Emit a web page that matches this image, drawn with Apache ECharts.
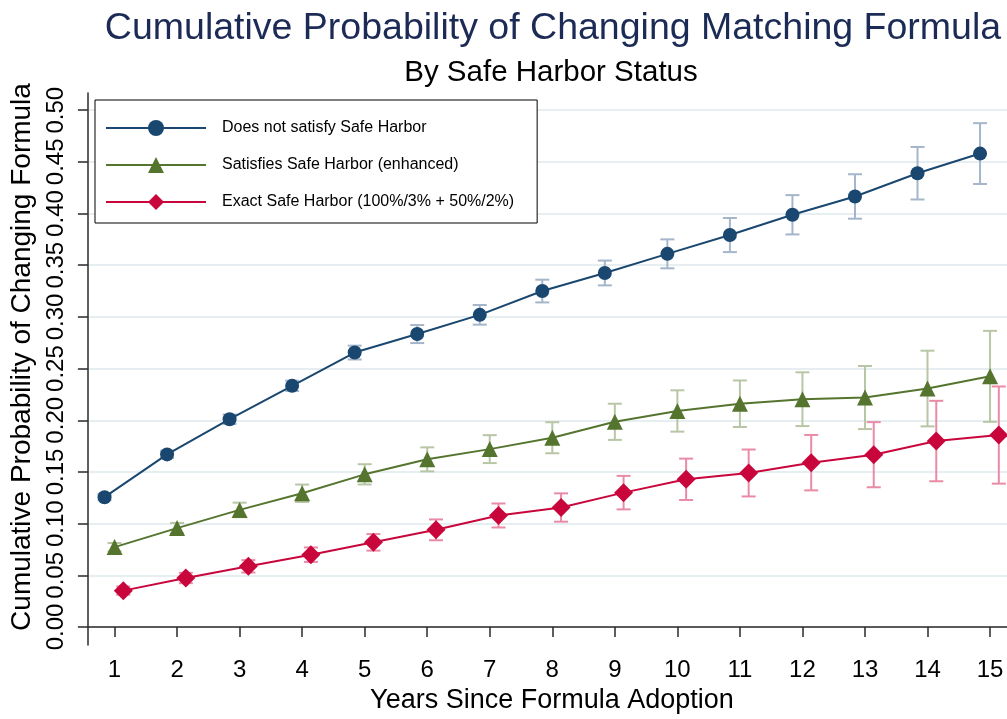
<!DOCTYPE html>
<html>
<head>
<meta charset="utf-8">
<script src="https://cdn.jsdelivr.net/npm/echarts@6/dist/echarts.min.js"></script>
<style>
html,body{margin:0;padding:0;background:#fff;}
#chart{width:1007px;height:719px;}
</style>
</head>
<body>
<div id="chart"></div>
<script>
// ---- data ----
const years = [1,2,3,4,5,6,7,8,9,10,11,12,13,14,15];
const yTicks = [0,0.05,0.10,0.15,0.20,0.25,0.30,0.35,0.40,0.45,0.50];
const seriesNames = ['Does not satisfy Safe Harbor','Satisfies Safe Harbor (enhanced)','Exact Safe Harbor (100%/3% + 50%/2%)'];
const notSatisfy    = [0.1256,0.167,0.201,0.2333,0.2655,0.2834,0.302,0.325,0.3425,0.361,0.3792,0.3988,0.4165,0.439,0.458];
const notSatisfyErr = [0.003,0.0035,0.0045,0.005,0.0067,0.0087,0.0095,0.011,0.012,0.014,0.0165,0.019,0.0215,0.0254,0.0294];
const enhanced      = [0.0773,0.0957,0.1133,0.1294,0.1477,0.1622,0.1721,0.1831,0.1985,0.209,0.216,0.2204,0.222,0.2307,0.2425];
const enhancedErr   = [0.004,0.005,0.007,0.0084,0.0098,0.0116,0.0135,0.015,0.0175,0.020,0.0225,0.026,0.0305,0.0366,0.044];
const exact         = [0.0352,0.0474,0.0587,0.070,0.0819,0.094,0.1079,0.1156,0.130,0.1429,0.149,0.159,0.1667,0.1799,0.1857];
const exactErr      = [0.004,0.005,0.006,0.007,0.008,0.0101,0.0116,0.0137,0.0162,0.020,0.0227,0.0268,0.0315,0.0389,0.047];

// ---- styles ----
const FONT = "'Liberation Sans', Arial, Helvetica, sans-serif";
const cBlue = '#1a476f', cGreen = '#55752f', cRed = '#c8063c';
const eBlue = '#a5b6ca', eGreen = '#b9c6a5', eRed = '#e98ba6';

function lineSeries(name, vals, offset, color, symbol, size) {
  return {
    type: 'line', name: name, z: 3,
    data: years.map((y, i) => [y + offset, vals[i]]),
    symbol: symbol, symbolSize: size, showSymbol: true,
    lineStyle: {color: color, width: 2},
    itemStyle: {color: color},
    emphasis: {disabled: true},
    animation: false
  };
}
function errSeries(vals, errs, offset, color) {
  return {
    type: 'custom', z: 2, silent: true, animation: false,
    data: years.map((y, i) => [y + offset, vals[i] - errs[i], vals[i] + errs[i]]),
    encode: {x: 0, y: [1, 2]},
    renderItem: function (params, api) {
      const x = api.value(0);
      const lo = api.coord([x, api.value(1)]);
      const hi = api.coord([x, api.value(2)]);
      const w = 7;
      const st = {stroke: color, lineWidth: 2};
      return {type: 'group', children: [
        {type: 'line', shape: {x1: lo[0], y1: lo[1], x2: hi[0], y2: hi[1]}, style: st},
        {type: 'line', shape: {x1: lo[0] - w, y1: lo[1], x2: lo[0] + w, y2: lo[1]}, style: st},
        {type: 'line', shape: {x1: hi[0] - w, y1: hi[1], x2: hi[0] + w, y2: hi[1]}, style: st}
      ]};
    }
  };
}

const chart = echarts.init(document.getElementById('chart'), null, {renderer: 'canvas'});
chart.setOption({
  backgroundColor: '#fff',
  animation: false,
  textStyle: {fontFamily: FONT},
  title: [
    {text: 'Cumulative Probability of Changing Matching Formula', left: 548, top: 5, textAlign: 'center',
     textStyle: {fontFamily: FONT, fontSize: 37.5, fontWeight: 'normal', color: '#1c2b55'}},
    {text: 'By Safe Harbor Status', left: 546, top: 53, textAlign: 'center',
     textStyle: {fontFamily: FONT, fontSize: 29.5, fontWeight: 'normal', color: '#000'}}
  ],
  legend: {
    data: seriesNames,
    orient: 'vertical', left: 95, top: 100,
    padding: [20, 23, 13, 10],
    itemWidth: 100, itemHeight: 20, itemGap: 21,
    backgroundColor: '#fff', borderColor: '#000', borderWidth: 1, borderRadius: 0,
    textStyle: {fontFamily: FONT, fontSize: 16, color: '#000', padding: [0, 0, 0, 11]},
    selectedMode: false
  },
  grid: {left: 86, right: 0, top: 93, bottom: 72, containLabel: false},
  xAxis: {
    type: 'value', min: 0.574, max: 15.271,
    name: 'Years Since Formula Adoption', nameLocation: 'middle', nameGap: 42,
    nameTextStyle: {fontFamily: FONT, fontSize: 27, color: '#000', padding: [0, 0, 0, 9]},
    axisLine: {show: true, lineStyle: {color: '#2a2a2a', width: 1.5}},
    axisTick: {show: true, length: 10, customValues: years, lineStyle: {color: '#2a2a2a', width: 1.5}},
    axisLabel: {customValues: years, fontFamily: FONT, fontSize: 24, color: '#000', margin: 13},
    splitLine: {show: false}
  },
  yAxis: {
    type: 'value', min: -0.0174, max: 0.5166,
    name: 'Cumulative Probability of Changing Formula', nameLocation: 'middle', nameGap: 50,
    nameRotate: 90,
    nameTextStyle: {fontFamily: FONT, fontSize: 28, color: '#000', padding: [0, 0, 0, 24]},
    axisLine: {show: true, lineStyle: {color: '#2a2a2a', width: 1.5}},
    axisTick: {show: true, length: 10, customValues: yTicks, lineStyle: {color: '#2a2a2a', width: 1.5}},
    axisLabel: {customValues: yTicks, rotate: 90, fontFamily: FONT, fontSize: 24, color: '#000', margin: 20,
      formatter: v => v.toFixed(2)},
    splitLine: {show: true, lineStyle: {color: '#e6eef1', width: 2}}
  },
  series: [
    errSeries(notSatisfy, notSatisfyErr, -0.16, eBlue),
    errSeries(enhanced, enhancedErr, 0, eGreen),
    errSeries(exact, exactErr, 0.14, eRed),
    lineSeries(seriesNames[0], notSatisfy, -0.16, cBlue, 'circle', 14),
    lineSeries(seriesNames[1], enhanced, 0, cGreen, 'triangle', 16),
    lineSeries(seriesNames[2], exact, 0.14, cRed, 'diamond', 19)
  ]
});
</script>
</body>
</html>
